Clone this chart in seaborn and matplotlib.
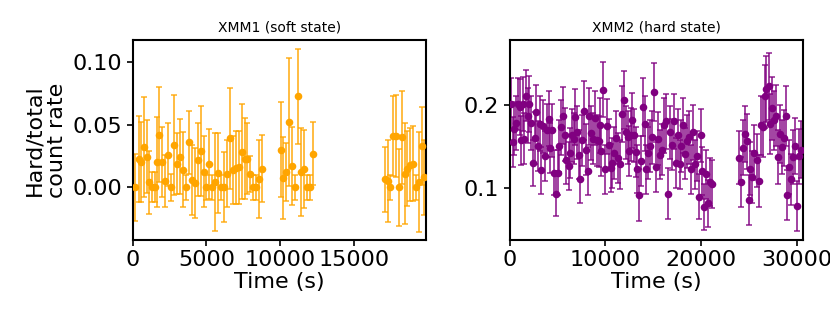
import matplotlib
matplotlib.use("Agg")
import matplotlib.pyplot as plt
import seaborn as sns

# XMM1 (soft state): time (s), hard/total count rate and 1-sigma errors
t1 = [181, 408, 590, 771, 953, 1134, 1315, 1497, 1610, 1792,
      1996, 2200, 2404, 2608, 2812, 2994, 3198, 3402, 3606, 3810,
      3992, 4196, 4400, 4604, 4808, 4990, 5194, 5398, 5602, 5783,
      5988, 6192, 6396, 6600, 6781, 6985, 7190, 7394, 7598, 7779,
      7983, 8187, 8391, 8596, 8800,
      10045, 10225, 10405, 10630, 10835, 11040, 11240, 11445, 11650, 11830,
      12060, 12240,
      17100, 17300, 17480, 17660, 17860, 18090, 18290, 18470, 18650, 18860,
      19060, 19260, 19470, 19650, 19800]
hr1 = [0.000, 0.0226, 0.020, 0.032, 0.0245, 0.004, 0.000, 0.000, 0.020, 0.042,
       0.020, 0.005, 0.026, 0.000, 0.034, 0.019, 0.0245, 0.014, 0.000, 0.036,
       0.006, 0.0035, 0.022, 0.029, 0.0126, 0.000, 0.0185, 0.000, 0.004, 0.0115,
       0.000, 0.000, 0.011, 0.039, 0.0137, 0.0156, 0.016, 0.0285, 0.023, 0.023,
       0.0107, 0.000, 0.000, 0.0067, 0.015,
       0.030, 0.0075, 0.0124, 0.052, 0.017, 0.000, 0.0726, 0.0124, 0.0145, 0.000,
       0.000, 0.027,
       0.0065, 0.005, 0.000, 0.041, 0.041, 0.000, 0.040, 0.011, 0.015, 0.018,
       0.019, 0.000, 0.004, 0.033, 0.008]
err1 = [0.027, 0.034, 0.032, 0.040, 0.029, 0.025, 0.012, 0.012, 0.036, 0.038,
        0.028, 0.021, 0.025, 0.011, 0.040, 0.024, 0.030, 0.030, 0.010, 0.025,
        0.028, 0.028, 0.029, 0.036, 0.028, 0.010, 0.028, 0.010, 0.039, 0.032,
        0.010, 0.028, 0.027, 0.040, 0.027, 0.029, 0.029, 0.038, 0.032, 0.028,
        0.014, 0.010, 0.010, 0.031, 0.027,
        0.038, 0.033, 0.023, 0.051, 0.031, 0.010, 0.038, 0.035, 0.031, 0.010,
        0.010, 0.025,
        0.026, 0.033, 0.010, 0.032, 0.033, 0.031, 0.037, 0.040, 0.030, 0.029,
        0.030, 0.010, 0.040, 0.031, 0.030]

# XMM2 (hard state)
t2 = [140, 349, 489, 663, 838, 1047, 1187, 1361, 1536, 1745,
      1885, 2059, 2234, 2443, 2618, 2792, 2967, 3141, 3316, 3490,
      3699, 3874, 4083, 4258, 4467, 4642, 4816, 5026, 5200, 5410,
      5584, 5793, 5933,
      6177, 6352, 6527, 6701, 6876, 7050, 7225, 7364, 7574, 7748,
      7958, 8167, 8341, 8551, 8725, 8935, 9109, 9284, 9423, 9563,
      9737, 9947, 10121, 10331, 10540, 10715, 10889, 11099, 11308, 11517,
      11692, 11936, 12111, 12320,
      12460, 12634, 12809, 12983, 13158, 13332, 13541, 13716, 13890, 14100,
      14274, 14484, 14658, 14868, 15077, 15286, 15496, 15705, 15915, 16124,
      16333, 16543, 16717, 16927, 17136, 17346, 17555, 17764, 17939, 18148,
      18323, 18567,
      18775, 18915, 19124, 19334, 19543, 19753, 19962, 20137, 20346, 20520,
      20730, 20939, 21149,
      23906, 24150, 24325, 24534, 24744,
      24953, 25127, 25337, 25546, 25790, 26000, 26209, 26419, 26628, 26802,
      27047, 27221, 27396, 27605, 27815, 28024, 28233, 28443, 28617, 28827,
      29001, 29176, 29385, 29595, 29804, 30013, 30188, 30397]
hr2 = [0.201, 0.155, 0.171, 0.178, 0.201, 0.197, 0.157, 0.201, 0.159, 0.211,
       0.187, 0.201, 0.178, 0.130, 0.160, 0.191, 0.150, 0.177, 0.121, 0.174,
       0.138, 0.169, 0.183, 0.148, 0.169, 0.118, 0.093, 0.118, 0.150, 0.173,
       0.187, 0.164, 0.133,
       0.126, 0.142, 0.163, 0.159, 0.185, 0.167, 0.140, 0.110, 0.157, 0.193,
       0.146, 0.120, 0.186, 0.166, 0.159, 0.184, 0.157, 0.156, 0.175, 0.144,
       0.218, 0.122, 0.174, 0.152, 0.124, 0.130, 0.142, 0.160, 0.136, 0.128,
       0.189, 0.206, 0.167, 0.161,
       0.144, 0.164, 0.181, 0.163, 0.143, 0.123, 0.091, 0.132, 0.197, 0.177,
       0.122, 0.142, 0.150, 0.161, 0.215, 0.125, 0.159, 0.140, 0.146, 0.175,
       0.180, 0.093, 0.167, 0.152, 0.180, 0.130, 0.163, 0.128, 0.150, 0.175,
       0.141, 0.156,
       0.161, 0.122, 0.167, 0.128, 0.138, 0.089, 0.163, 0.120, 0.077, 0.116,
       0.081, 0.107, 0.104,
       0.136, 0.107, 0.148, 0.165, 0.156,
       0.085, 0.123, 0.113, 0.142, 0.133, 0.108, 0.175, 0.173, 0.210, 0.219,
       0.222, 0.177, 0.196, 0.181, 0.187, 0.137, 0.165, 0.149, 0.160, 0.186,
       0.091, 0.125, 0.110, 0.137, 0.150, 0.078, 0.138, 0.146]
err2 = [0.031, 0.030, 0.032, 0.033, 0.031, 0.034, 0.030, 0.033, 0.031, 0.031,
        0.033, 0.034, 0.032, 0.028, 0.031, 0.033, 0.030, 0.033, 0.028, 0.032,
        0.030, 0.032, 0.033, 0.030, 0.032, 0.027, 0.027, 0.027, 0.031, 0.033,
        0.034, 0.032, 0.029,
        0.029, 0.030, 0.032, 0.031, 0.034, 0.032, 0.030, 0.029, 0.031, 0.035,
        0.031, 0.029, 0.034, 0.032, 0.031, 0.033, 0.031, 0.031, 0.033, 0.030,
        0.033, 0.029, 0.033, 0.031, 0.029, 0.030, 0.031, 0.032, 0.030, 0.029,
        0.034, 0.035, 0.032, 0.032,
        0.030, 0.032, 0.033, 0.032, 0.030, 0.029, 0.031, 0.030, 0.035, 0.033,
        0.029, 0.031, 0.031, 0.032, 0.035, 0.030, 0.032, 0.030, 0.031, 0.033,
        0.033, 0.031, 0.032, 0.031, 0.033, 0.030, 0.032, 0.029, 0.031, 0.033,
        0.031, 0.032,
        0.032, 0.029, 0.033, 0.030, 0.030, 0.027, 0.032, 0.029, 0.028, 0.029,
        0.028, 0.029, 0.029,
        0.032, 0.030, 0.033, 0.034, 0.033,
        0.030, 0.032, 0.031, 0.033, 0.032, 0.031, 0.036, 0.036, 0.038, 0.040,
        0.040, 0.036, 0.038, 0.036, 0.037, 0.033, 0.035, 0.033, 0.034, 0.036,
        0.030, 0.032, 0.031, 0.033, 0.034, 0.030, 0.033, 0.034]

sns.set_style("ticks")
plt.rcParams["font.family"] = ["DejaVu Sans"]
plt.rcParams["text.color"] = "black"
plt.rcParams["axes.labelcolor"] = "black"
plt.rcParams["xtick.color"] = "black"
plt.rcParams["ytick.color"] = "black"

fig = plt.figure(figsize=(8.3, 3.2), dpi=100)
ax1 = fig.add_axes([0.160, 0.25, 0.353, 0.625])
ax2 = fig.add_axes([0.614, 0.25, 0.353, 0.625])

panels = [
    (ax1, t1, hr1, err1, "orange", "XMM1 (soft state)", 19900, (-0.042, 0.1176),
     [0, 5000, 10000, 15000], [0.0, 0.05, 0.10]),
    (ax2, t2, hr2, err2, "purple", "XMM2 (hard state)", 30600, (0.037, 0.278),
     [0, 10000, 20000, 30000], [0.1, 0.2]),
]

for ax, t, hr, err, col, title, xmax, ylim, xt, yt in panels:
    ax.errorbar(t, hr, yerr=err, fmt="none", ecolor=col, alpha=0.8,
                elinewidth=1.3, capsize=2.5, capthick=1.2)
    sns.scatterplot(x=t, y=hr, color=col, s=30, linewidth=0, ax=ax, zorder=3)
    ax.set_xlim(0, xmax)
    ax.set_ylim(*ylim)
    ax.set_xticks(xt)
    ax.set_yticks(yt)
    ax.set_title(title, fontsize=10, color="black")
    ax.set_xlabel("Time (s)", fontsize=16, labelpad=1)
    ax.tick_params(labelsize=16, width=1.2, length=4, color="black",
                   labelcolor="black")
    for s in ax.spines.values():
        s.set_linewidth(1.5)
        s.set_color("black")

ax1.set_ylabel("Hard/total\ncount rate", fontsize=16)
ax2.set_ylabel("")

plt.savefig("out.png", dpi=100)
plt.close()
